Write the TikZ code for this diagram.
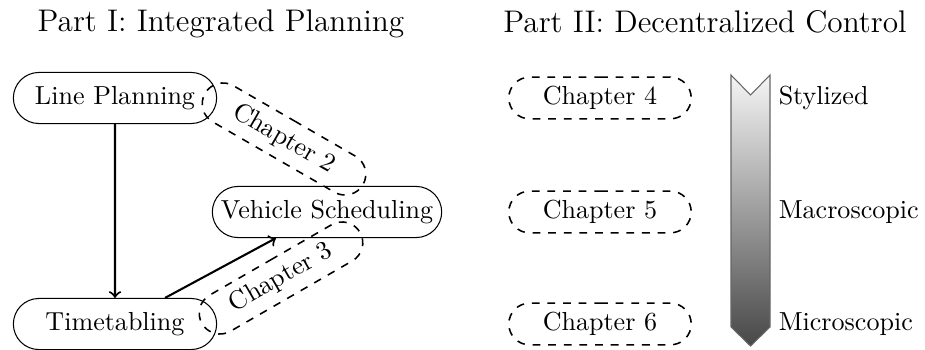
\documentclass[tikz,border=0pt]{standalone}
\usetikzlibrary{shapes.misc,calc}
\begin{document}
\begin{tikzpicture}[x=0.3837pt,y=-0.3837pt,
  box/.style={draw, rounded rectangle, minimum height=19.6pt, minimum width=82pt, inner sep=2pt},
  chap/.style={draw, dashed, semithick, rounded rectangle, minimum height=16pt, minimum width=74pt, inner sep=2pt},
  arr/.style={->, thick},
  title/.style={font=\large, anchor=base},
  level/.style={anchor=west, inner sep=2pt}]
\useasboundingbox (0,0) rectangle (925,350);

% headings
\node[title] (t1) at (221,32) {Part I: Integrated Planning};
\node[title] (t2) at (705,33) {Part II: Decentralized Control};

% planning stages
\node[box] (lp) at (115,98) {Line Planning};
\node[box, minimum width=92pt] (vs) at (327,212) {Vehicle Scheduling};
\node[box] (tt) at (115,324) {Timetabling};

% chapters spanning two stages
\node[chap, rotate=-30] (c2) at (284,139) {Chapter 2};
\node[chap, rotate=30] (c3) at (281,278) {Chapter 3};

\draw[arr] (lp) -- (tt);
\draw[arr] ($(tt.north)+(50,0)$) -- ($(vs.south)+(-51,0)$);

% decentralized control chapters
\node[chap] (c4) at (600,98) {Chapter 4};
\node[chap] (c5) at (600,212) {Chapter 5};
\node[chap] (c6) at (600,324) {Chapter 6};

% level of detail bar
\shade[top color=black!4, bottom color=black!72, draw=black!60]
  (731,75) -- (750.5,95) -- (770,75) -- (770,327) -- (750.5,346) -- (731,327) -- cycle;
\node[level] (l1) at (773,98) {Stylized};
\node[level] (l2) at (773,212) {Macroscopic};
\node[level] (l3) at (773,324) {Microscopic};
\end{tikzpicture}
\end{document}
